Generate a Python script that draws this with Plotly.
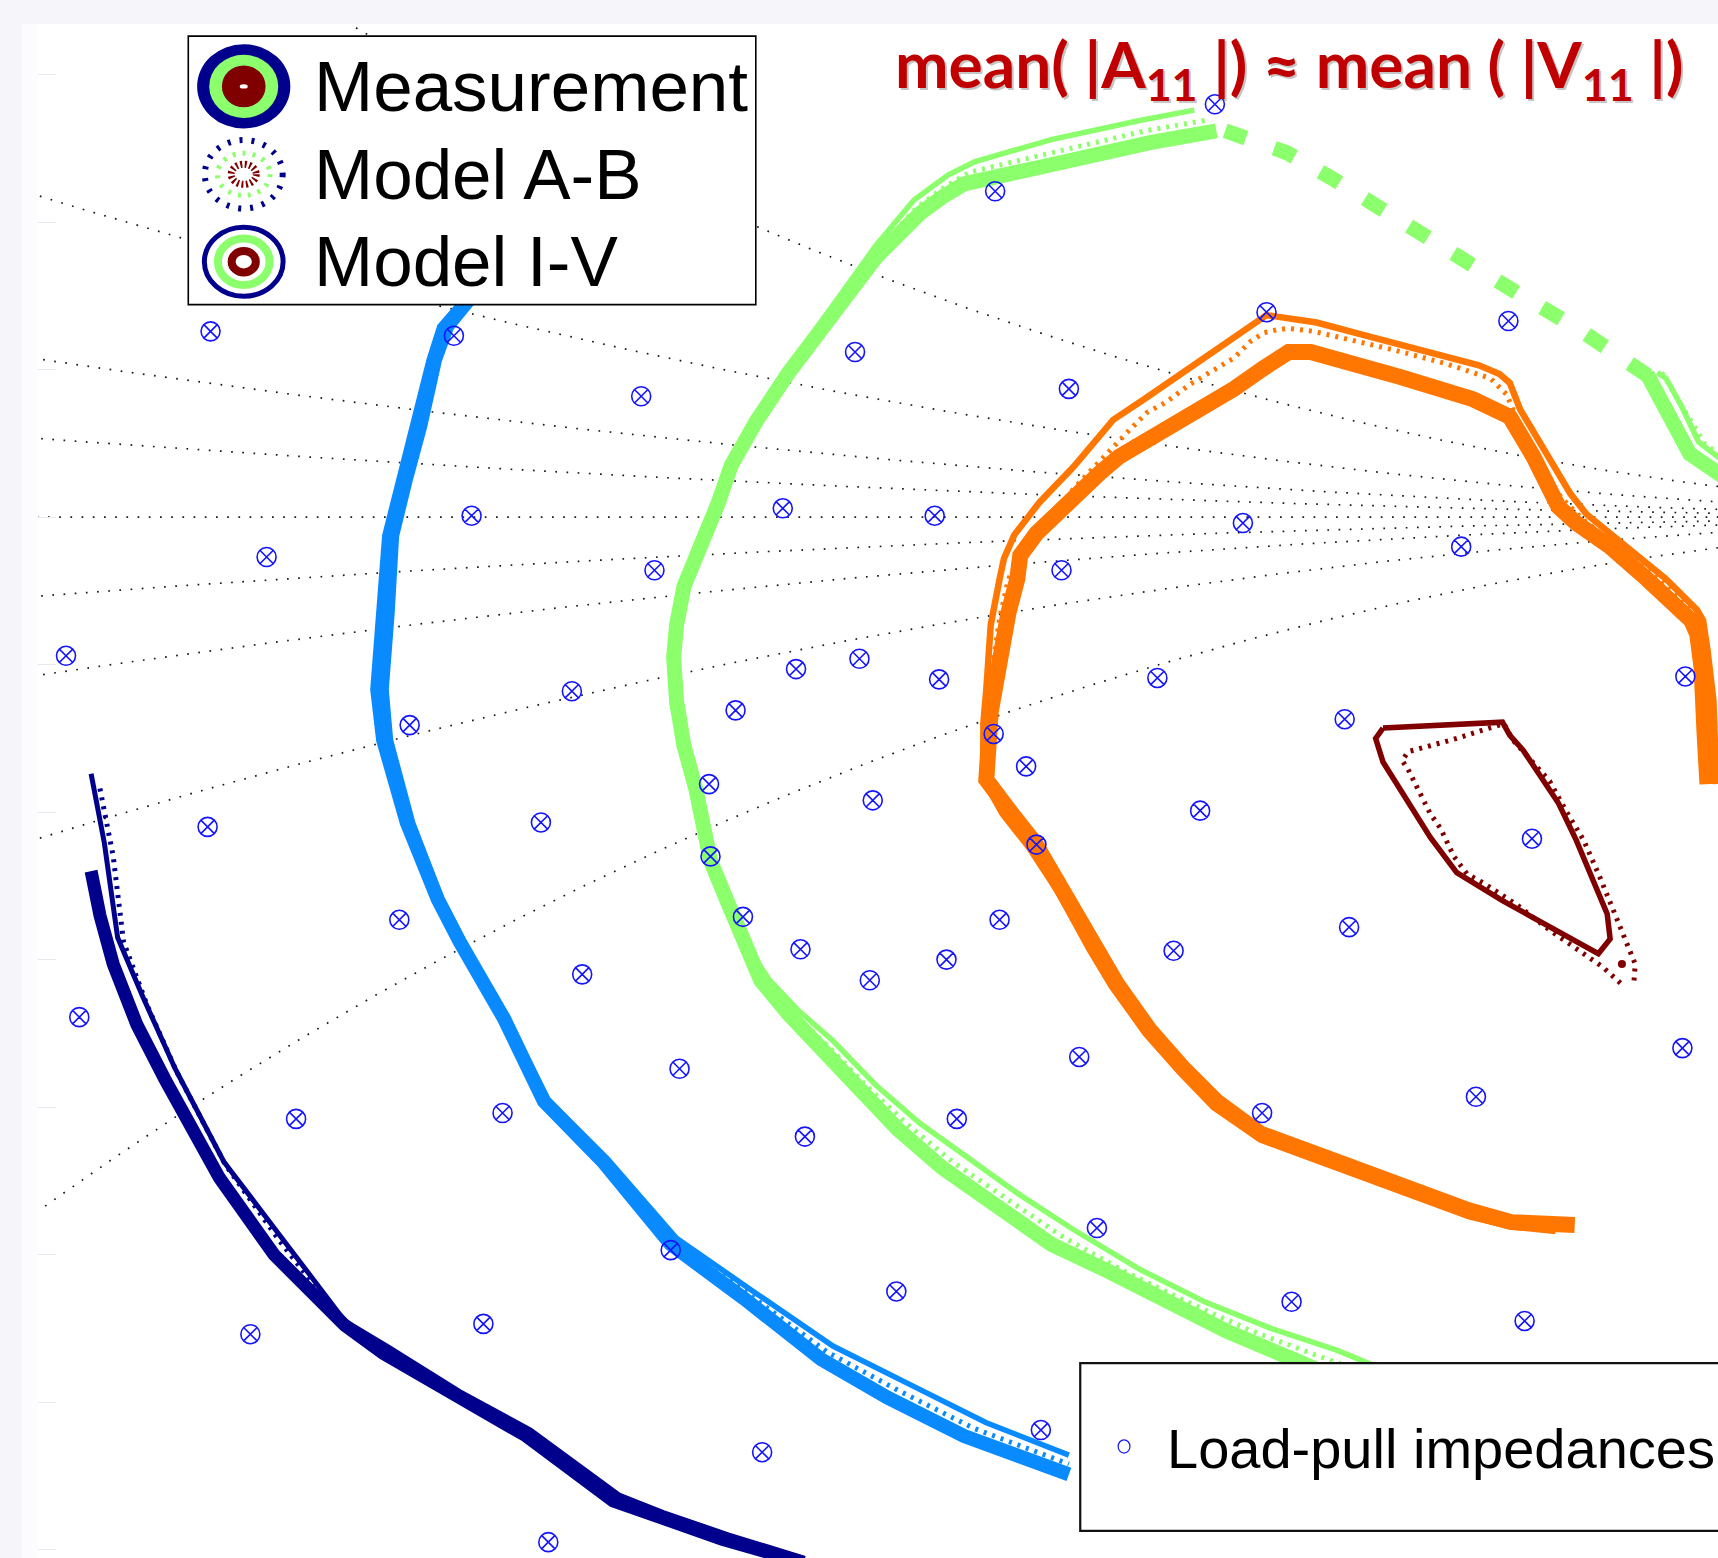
import numpy as np
import plotly.graph_objects as go

# ---------------- data (reflection-coefficient plane: Re / Im) ----------------
lp_re = [0.338, 0.189, -0.343, -0.178, 0.094, 0.373, 0.537, -0.051, 0.239, -0.166,
         0.045, 0.148, 0.357, 0.505, -0.305, -0.042, 0.234, -0.441, 0.054, 0.097,
         0.151, 0.299, 0.657, -0.098, 0.013, -0.208, 0.426, 0.188, 0.210, -0.005,
         0.106, 0.328, -0.345, -0.119, 0.553, 0.217, -0.004, 0.018, -0.215, 0.192,
         0.429, 0.057, 0.310, 0.156, 0.104, -0.091, -0.432, 0.655, 0.246, -0.025,
         0.515, -0.285, -0.145, 0.163, 0.370, 0.060, 0.258, -0.031, 0.122, 0.390,
         0.548, -0.316, -0.158, 0.220, 0.031, -0.114]
lp_im = [0.280, 0.221, 0.126, 0.123, 0.112, 0.139, 0.133, 0.082, 0.087, 0.001,
         0.006, 0.001, -0.004, -0.020, -0.027, -0.036, -0.036, -0.094, -0.103, -0.096,
         -0.110, -0.109, -0.108, -0.118, -0.131, -0.141, -0.137, -0.147, -0.169, -0.181,
         -0.192, -0.199, -0.210, -0.207, -0.218, -0.222, -0.230, -0.271, -0.273, -0.273,
         -0.278, -0.293, -0.294, -0.300, -0.314, -0.310, -0.339, -0.360, -0.366, -0.374,
         -0.393, -0.408, -0.404, -0.408, -0.404, -0.420, -0.482, -0.497, -0.525, -0.532,
         -0.545, -0.554, -0.547, -0.619, -0.634, -0.695]

navy_meas_re = [-0.424, -0.418, -0.409, -0.393, -0.374, -0.337, -0.300, -0.252, -0.226, -0.174, -0.129, -0.070, -0.040, 0.004, 0.056]
navy_meas_im = [-0.240, -0.270, -0.303, -0.344, -0.381, -0.448, -0.500, -0.548, -0.567, -0.597, -0.623, -0.667, -0.678, -0.693, -0.708]
navy_iv_re = [-0.424, -0.415, -0.406, -0.389, -0.367, -0.334, -0.296, -0.252, -0.222, -0.174, -0.126, -0.066, -0.036, 0.008, 0.060]
navy_iv_im = [-0.174, -0.221, -0.285, -0.325, -0.374, -0.437, -0.487, -0.545, -0.563, -0.593, -0.619, -0.663, -0.675, -0.690, -0.706]
navy_ab_re = [-0.418, -0.409, -0.402, -0.386, -0.366, -0.333, -0.296, -0.252, -0.224, -0.174, -0.128, -0.068, -0.039, 0.006, 0.059]
navy_ab_im = [-0.184, -0.230, -0.288, -0.331, -0.376, -0.439, -0.491, -0.547, -0.565, -0.594, -0.621, -0.666, -0.677, -0.692, -0.707]

blue_meas_re = [-0.166, -0.185, -0.192, -0.204, -0.213, -0.222, -0.226, -0.230, -0.226, -0.210, -0.189, -0.174, -0.144, -0.117, -0.077, -0.031, 0.019, 0.071, 0.116, 0.168, 0.239]
blue_meas_im = [0.150, 0.128, 0.106, 0.061, 0.024, -0.013, -0.065, -0.117, -0.151, -0.207, -0.259, -0.288, -0.340, -0.396, -0.437, -0.493, -0.530, -0.571, -0.597, -0.623, -0.649]
blue_iv_re = [-0.162, -0.180, -0.188, -0.198, -0.208, -0.217, -0.220, -0.224, -0.221, -0.206, -0.186, -0.171, -0.142, -0.114, -0.074, -0.027, 0.025, 0.079, 0.131, 0.183, 0.239]
blue_iv_im = [0.150, 0.128, 0.106, 0.061, 0.024, -0.013, -0.065, -0.117, -0.151, -0.207, -0.259, -0.288, -0.340, -0.395, -0.435, -0.489, -0.525, -0.562, -0.588, -0.614, -0.636]
blue_ab_re = [-0.164, -0.183, -0.190, -0.201, -0.211, -0.220, -0.223, -0.227, -0.224, -0.208, -0.187, -0.172, -0.143, -0.115, -0.075, -0.029, 0.022, 0.075, 0.123, 0.175, 0.239]
blue_ab_im = [0.150, 0.128, 0.106, 0.061, 0.024, -0.013, -0.065, -0.117, -0.151, -0.207, -0.259, -0.288, -0.340, -0.395, -0.436, -0.491, -0.527, -0.566, -0.592, -0.618, -0.642]

green_meas_re = [0.339, 0.294, 0.227, 0.168, 0.153, 0.138, 0.108, 0.079, 0.049, 0.027, 0.010, 0.001, -0.010, -0.022, -0.027, -0.029, -0.027, -0.022, -0.014, -0.008,
                 -0.004, 0.008, 0.019, 0.030, 0.049, 0.071, 0.097, 0.123, 0.153, 0.190, 0.227, 0.265, 0.302, 0.346, 0.391, 0.421]
green_meas_im = [0.262, 0.254, 0.239, 0.226, 0.217, 0.206, 0.176, 0.139, 0.098, 0.065, 0.035, 0.009, -0.017, -0.047, -0.073, -0.095, -0.125, -0.155, -0.184, -0.214,
                 -0.233, -0.262, -0.288, -0.314, -0.337, -0.361, -0.389, -0.415, -0.441, -0.467, -0.493, -0.511, -0.530, -0.552, -0.571, -0.584]
green_iv_re = [0.324, 0.287, 0.227, 0.175, 0.157, 0.134, 0.108, 0.079, 0.049, 0.027, 0.008, -0.003, -0.014, -0.024, -0.029, -0.031, -0.030, -0.024, -0.016, -0.009,
               -0.003, 0.010, 0.023, 0.036, 0.055, 0.079, 0.108, 0.138, 0.168, 0.205, 0.242, 0.287, 0.331, 0.376, 0.421, 0.450]
green_iv_im = [0.276, 0.269, 0.256, 0.241, 0.232, 0.215, 0.184, 0.143, 0.102, 0.068, 0.035, 0.007, -0.019, -0.048, -0.074, -0.097, -0.126, -0.156, -0.186, -0.215,
               -0.236, -0.266, -0.294, -0.314, -0.334, -0.355, -0.385, -0.411, -0.433, -0.459, -0.483, -0.510, -0.532, -0.550, -0.565, -0.577]
green_ab_re = [0.331, 0.291, 0.227, 0.172, 0.155, 0.136, 0.108, 0.079, 0.049, 0.027, 0.009, -0.001, -0.013, -0.023, -0.028, -0.030, -0.029, -0.023, -0.016, -0.009,
               -0.004, 0.009, 0.021, 0.033, 0.052, 0.075, 0.103, 0.131, 0.160, 0.198, 0.235, 0.276, 0.317, 0.361, 0.406, 0.443]
green_ab_im = [0.269, 0.262, 0.247, 0.234, 0.224, 0.210, 0.180, 0.141, 0.100, 0.067, 0.035, 0.008, -0.018, -0.048, -0.074, -0.096, -0.126, -0.155, -0.185, -0.215,
               -0.235, -0.265, -0.291, -0.314, -0.336, -0.358, -0.387, -0.413, -0.437, -0.463, -0.488, -0.511, -0.531, -0.551, -0.568, -0.581]
green_gap_re = [0.345, 0.387, 0.417, 0.469, 0.510, 0.543, 0.584, 0.610, 0.636]
green_gap_im = [0.262, 0.247, 0.230, 0.197, 0.172, 0.152, 0.128, 0.111, 0.093]
green_meas_tail_re = [0.631, 0.645, 0.660, 0.679, 0.703]
green_meas_tail_im = [0.097, 0.072, 0.043, 0.030, 0.015]
green_iv_tail_re = [0.638, 0.644, 0.655, 0.666, 0.679, 0.703]
green_iv_tail_im = [0.098, 0.094, 0.074, 0.051, 0.041, 0.024]
green_ab_tail_re = [0.641, 0.658, 0.670, 0.679, 0.703]
green_ab_tail_im = [0.098, 0.070, 0.050, 0.043, 0.027]

orange_meas_re = [0.582, 0.539, 0.510, 0.458, 0.421, 0.369, 0.339, 0.317, 0.294, 0.272, 0.257, 0.235, 0.216, 0.198, 0.183, 0.186, 0.192, 0.198, 0.204, 0.206,
                  0.217, 0.230, 0.244, 0.260, 0.273, 0.292, 0.312, 0.328, 0.351, 0.371, 0.388, 0.403, 0.441, 0.464, 0.513, 0.531, 0.538, 0.554, 0.568, 0.571,
                  0.583, 0.606, 0.631, 0.661, 0.665, 0.668, 0.670, 0.672]
orange_meas_im = [-0.480, -0.478, -0.470, -0.452, -0.437, -0.418, -0.396, -0.374, -0.348, -0.317, -0.292, -0.251, -0.221, -0.198, -0.178, -0.132, -0.095, -0.065, -0.042, -0.026,
                  -0.011, 0.002, 0.016, 0.030, 0.041, 0.052, 0.066, 0.075, 0.087, 0.101, 0.112, 0.112, 0.102, 0.095, 0.080, 0.073, 0.068, 0.041, 0.016, 0.007,
                  -0.004, -0.020, -0.042, -0.070, -0.079, -0.102, -0.146, -0.181]
orange_iv_re = [0.569, 0.539, 0.510, 0.458, 0.421, 0.369, 0.337, 0.314, 0.291, 0.268, 0.253, 0.231, 0.212, 0.194, 0.181, 0.181, 0.183, 0.186, 0.192, 0.195,
                0.202, 0.219, 0.242, 0.256, 0.269, 0.290, 0.312, 0.355, 0.373, 0.380, 0.407, 0.441, 0.464, 0.517, 0.531, 0.538, 0.545, 0.559, 0.572, 0.579,
                0.590, 0.606, 0.626, 0.644, 0.665, 0.669, 0.672, 0.676, 0.678]
orange_iv_im = [-0.484, -0.481, -0.474, -0.455, -0.441, -0.422, -0.400, -0.376, -0.350, -0.318, -0.293, -0.253, -0.224, -0.201, -0.178, -0.140, -0.117, -0.073, -0.042, -0.028,
                -0.012, 0.010, 0.034, 0.050, 0.066, 0.080, 0.095, 0.125, 0.137, 0.136, 0.132, 0.123, 0.117, 0.103, 0.097, 0.091, 0.073, 0.050, 0.027, 0.016,
                0.002, -0.011, -0.027, -0.042, -0.063, -0.070, -0.090, -0.124, -0.181]
orange_ab_re = [0.565, 0.510, 0.458, 0.421, 0.369, 0.338, 0.315, 0.292, 0.270, 0.255, 0.233, 0.214, 0.195, 0.182, 0.184, 0.186, 0.192, 0.198, 0.207, 0.221,
                0.230, 0.242, 0.260, 0.269, 0.280, 0.292, 0.305, 0.321, 0.337, 0.351, 0.362, 0.371, 0.380, 0.388, 0.405, 0.436, 0.461, 0.495, 0.525, 0.536,
                0.551, 0.573, 0.588, 0.606, 0.629, 0.647, 0.666, 0.670, 0.674, 0.676]
orange_ab_im = [-0.482, -0.473, -0.454, -0.439, -0.421, -0.398, -0.375, -0.349, -0.317, -0.293, -0.252, -0.223, -0.199, -0.178, -0.140, -0.110, -0.069, -0.042, -0.025, -0.007,
                0.004, 0.019, 0.038, 0.048, 0.059, 0.071, 0.078, 0.090, 0.100, 0.108, 0.119, 0.125, 0.127, 0.128, 0.126, 0.119, 0.113, 0.104, 0.094, 0.083,
                0.046, 0.013, -0.002, -0.016, -0.033, -0.048, -0.067, -0.088, -0.125, -0.181]

darkred_iv_re = [0.452, 0.533, 0.538, 0.547, 0.571, 0.583, 0.604, 0.606, 0.598, 0.533, 0.502, 0.484, 0.452, 0.447, 0.452]
darkred_iv_im = [-0.143, -0.139, -0.148, -0.158, -0.194, -0.219, -0.269, -0.286, -0.296, -0.260, -0.241, -0.217, -0.166, -0.150, -0.143]
darkred_ab_re = [0.613, 0.601, 0.588, 0.565, 0.543, 0.520, 0.509, 0.500, 0.491, 0.484, 0.475, 0.469, 0.465, 0.469, 0.484, 0.502, 0.524, 0.534, 0.540, 0.552,
                 0.565, 0.576, 0.588, 0.599, 0.610, 0.617, 0.623, 0.622]
darkred_ab_im = [-0.316, -0.305, -0.296, -0.280, -0.263, -0.248, -0.242, -0.230, -0.211, -0.201, -0.183, -0.171, -0.165, -0.159, -0.155, -0.150, -0.143, -0.140, -0.151, -0.165,
                 -0.179, -0.199, -0.219, -0.244, -0.271, -0.287, -0.303, -0.317]
darkred_dot_re = [0.614]
darkred_dot_im = [-0.303]

reactance_values = [0.05, 0.1, 0.2, 0.4]
legend_labels = ["Measurement", "Model A-B", "Model I-V"]

# ---------------- styling ----------------
NAVY, BLUE, GREEN, ORANGE, DRED = "#00008c", "#0a8aff", "#8cff6c", "#ff7600", "#800000"
AB_DASH = "3px,6px"

fig = go.Figure()

# Smith-chart reactance arcs (dotted grid)
r = np.concatenate([np.linspace(0, 1, 300), np.logspace(0, 3, 600)[1:]])
for xv in [0.0] + reactance_values + [-v for v in reactance_values]:
    g = (r + 1j * xv - 1) / (r + 1j * xv + 1)
    fig.add_trace(go.Scatter(x=g.real, y=g.imag, mode="lines",
                             line=dict(color="#1a1a1a", width=1.7, dash="1.7px,9.5px"),
                             hoverinfo="skip", showlegend=False))


def add_line(xs, ys, color, width, dash="solid"):
    fig.add_trace(go.Scatter(x=xs, y=ys, mode="lines",
                             line=dict(color=color, width=width, dash=dash),
                             hoverinfo="skip", showlegend=False))


add_line(navy_meas_re, navy_meas_im, NAVY, 13)
add_line(navy_iv_re, navy_iv_im, NAVY, 5)
add_line(navy_ab_re, navy_ab_im, NAVY, 5, AB_DASH)

add_line(blue_meas_re, blue_meas_im, BLUE, 14)
add_line(blue_iv_re, blue_iv_im, BLUE, 5.5)
add_line(blue_ab_re, blue_ab_im, BLUE, 5, AB_DASH)

add_line(green_meas_re, green_meas_im, GREEN, 15)
add_line(green_gap_re, green_gap_im, GREEN, 15, "22px,30px")
add_line(green_meas_tail_re, green_meas_tail_im, GREEN, 15)
add_line(green_iv_re, green_iv_im, GREEN, 5.5)
add_line(green_iv_tail_re, green_iv_tail_im, GREEN, 5.5)
add_line(green_ab_re, green_ab_im, GREEN, 5, AB_DASH)
add_line(green_ab_tail_re, green_ab_tail_im, GREEN, 5, AB_DASH)

add_line(orange_meas_re, orange_meas_im, ORANGE, 16)
add_line(orange_iv_re, orange_iv_im, ORANGE, 6.5)
add_line(orange_ab_re, orange_ab_im, ORANGE, 5, AB_DASH)

add_line(darkred_iv_re, darkred_iv_im, DRED, 5.5)
add_line(darkred_ab_re, darkred_ab_im, DRED, 5, AB_DASH)
fig.add_trace(go.Scatter(x=darkred_dot_re, y=darkred_dot_im, mode="markers",
                         marker=dict(color=DRED, size=8), hoverinfo="skip", showlegend=False))

# load-pull impedances
fig.add_trace(go.Scatter(x=lp_re, y=lp_im, mode="markers",
                         marker=dict(symbol="circle-x-open", size=19, color="#1414ff",
                                     line=dict(width=1.6, color="#1414ff")),
                         hoverinfo="skip", showlegend=False))

# ---------------- layout ----------------
W, H = 1718, 1558
ML, MT = 38, 24
PX = 1474.8  # pixels per unit of reflection coefficient
x0 = -0.460
y1 = 0.3344
x_range = [x0, x0 + (W - ML) / PX]
y_range = [y1 - (H - MT) / PX, y1]

shapes = [
    dict(type="rect", xref="paper", yref="paper", x0=-16 / (W - ML), x1=0, y0=0, y1=1,
         fillcolor="#fcfcfe", line=dict(width=0), layer="below"),
    # legend box 1
    dict(type="rect", xref="x", yref="y", x0=-0.3581, x1=0.0267, y0=0.1441, y1=0.3262,
         fillcolor="white", line=dict(color="black", width=1.6), layer="above"),
    # legend box 2
    dict(type="rect", xref="x", yref="y", x0=0.2467, x1=0.80, y0=-0.6873, y1=-0.5736,
         fillcolor="white", line=dict(color="#111111", width=2.2), layer="above"),
]

cx = -0.3205
icon_y = [0.2921, 0.2325, 0.1732]


def ell(cy, rx, ry, fill=None, line_color=None, lw=0, dash="solid"):
    d = dict(type="circle", xref="x", yref="y", x0=cx - rx, x1=cx + rx, y0=cy - ry, y1=cy + ry,
             layer="above")
    d["fillcolor"] = fill if fill else "rgba(0,0,0,0)"
    d["line"] = dict(color=line_color if line_color else "rgba(0,0,0,0)", width=lw, dash=dash)
    return d


# Measurement icon
shapes += [ell(icon_y[0], 0.0316, 0.0286, fill=NAVY),
           ell(icon_y[0], 0.0234, 0.0214, fill=GREEN),
           ell(icon_y[0], 0.0148, 0.0142, fill=DRED),
           ell(icon_y[0], 0.0027, 0.0015, fill="white")]
# Model A-B icon
shapes += [ell(icon_y[1], 0.0264, 0.0232, line_color=NAVY, lw=6, dash="3px,9px"),
           ell(icon_y[1], 0.0178, 0.0143, line_color=GREEN, lw=5, dash="3px,7px"),
           ell(icon_y[1], 0.0085, 0.0068, line_color=DRED, lw=7, dash="2px,2.5px")]
# Model I-V icon
shapes += [ell(icon_y[2], 0.0267, 0.0234, line_color=NAVY, lw=5),
           ell(icon_y[2], 0.0175, 0.0158, line_color=GREEN, lw=8),
           ell(icon_y[2], 0.0082, 0.0073, line_color=DRED, lw=8)]
# load-pull legend glyph
shapes.append(dict(type="circle", xref="x", yref="y", x0=0.2764 - 0.0040, x1=0.2764 + 0.0040,
                   y0=-0.6301 - 0.0045, y1=-0.6301 + 0.0045, line=dict(color="#1414ff", width=1.2),
                   layer="above"))

annotations = []
title_txt = "mean( |A<sub>11</sub> |) ≈ mean ( |V<sub>11</sub> |)"
for dx, dy, col in [(2, -2, "rgba(90,90,90,0.35)"), (0, 0, "#c00000")]:
    annotations.append(dict(x=0.1196, y=0.3046, xref="x", yref="y", text=title_txt, showarrow=False,
                            xanchor="left", yanchor="middle", xshift=dx, yshift=dy,
                            font=dict(family="Lato, Open Sans, sans-serif", size=64, color=col, weight="bold")))
for lab, yy in zip(legend_labels, icon_y):
    annotations.append(dict(x=-0.2742, y=yy, xref="x", yref="y", text=lab, showarrow=False,
                            xanchor="left", yanchor="middle",
                            font=dict(family="Liberation Sans, Arial, sans-serif", size=71, color="black")))
annotations.append(dict(x=0.3040, y=-0.6316, xref="x", yref="y", text="Load-pull impedances", showarrow=False,
                        xanchor="left", yanchor="middle",
                        font=dict(family="Liberation Sans, Arial, sans-serif", size=56, color="black")))

fig.update_layout(
    width=W, height=H, autosize=False,
    margin=dict(l=ML, r=0, t=MT, b=0, pad=0),
    paper_bgcolor="#f6f6fa", plot_bgcolor="white",
    showlegend=False,
    xaxis=dict(range=x_range, visible=False, fixedrange=True),
    yaxis=dict(range=y_range, showgrid=False, zeroline=False, showline=False,
               ticks="inside", ticklen=18, tickcolor="#e8e8ee", tickwidth=1,
               tickvals=[0.3, 0.2, 0.1, 0.0, -0.1, -0.2, -0.3, -0.4, -0.5, -0.6, -0.7],
               showticklabels=False, fixedrange=True),
    shapes=shapes, annotations=annotations,
)

fig.write_html("out.html", config={"displayModeBar": False},
               post_script="document.body.style.margin='0px';document.body.style.background='#f6f6fa';")
